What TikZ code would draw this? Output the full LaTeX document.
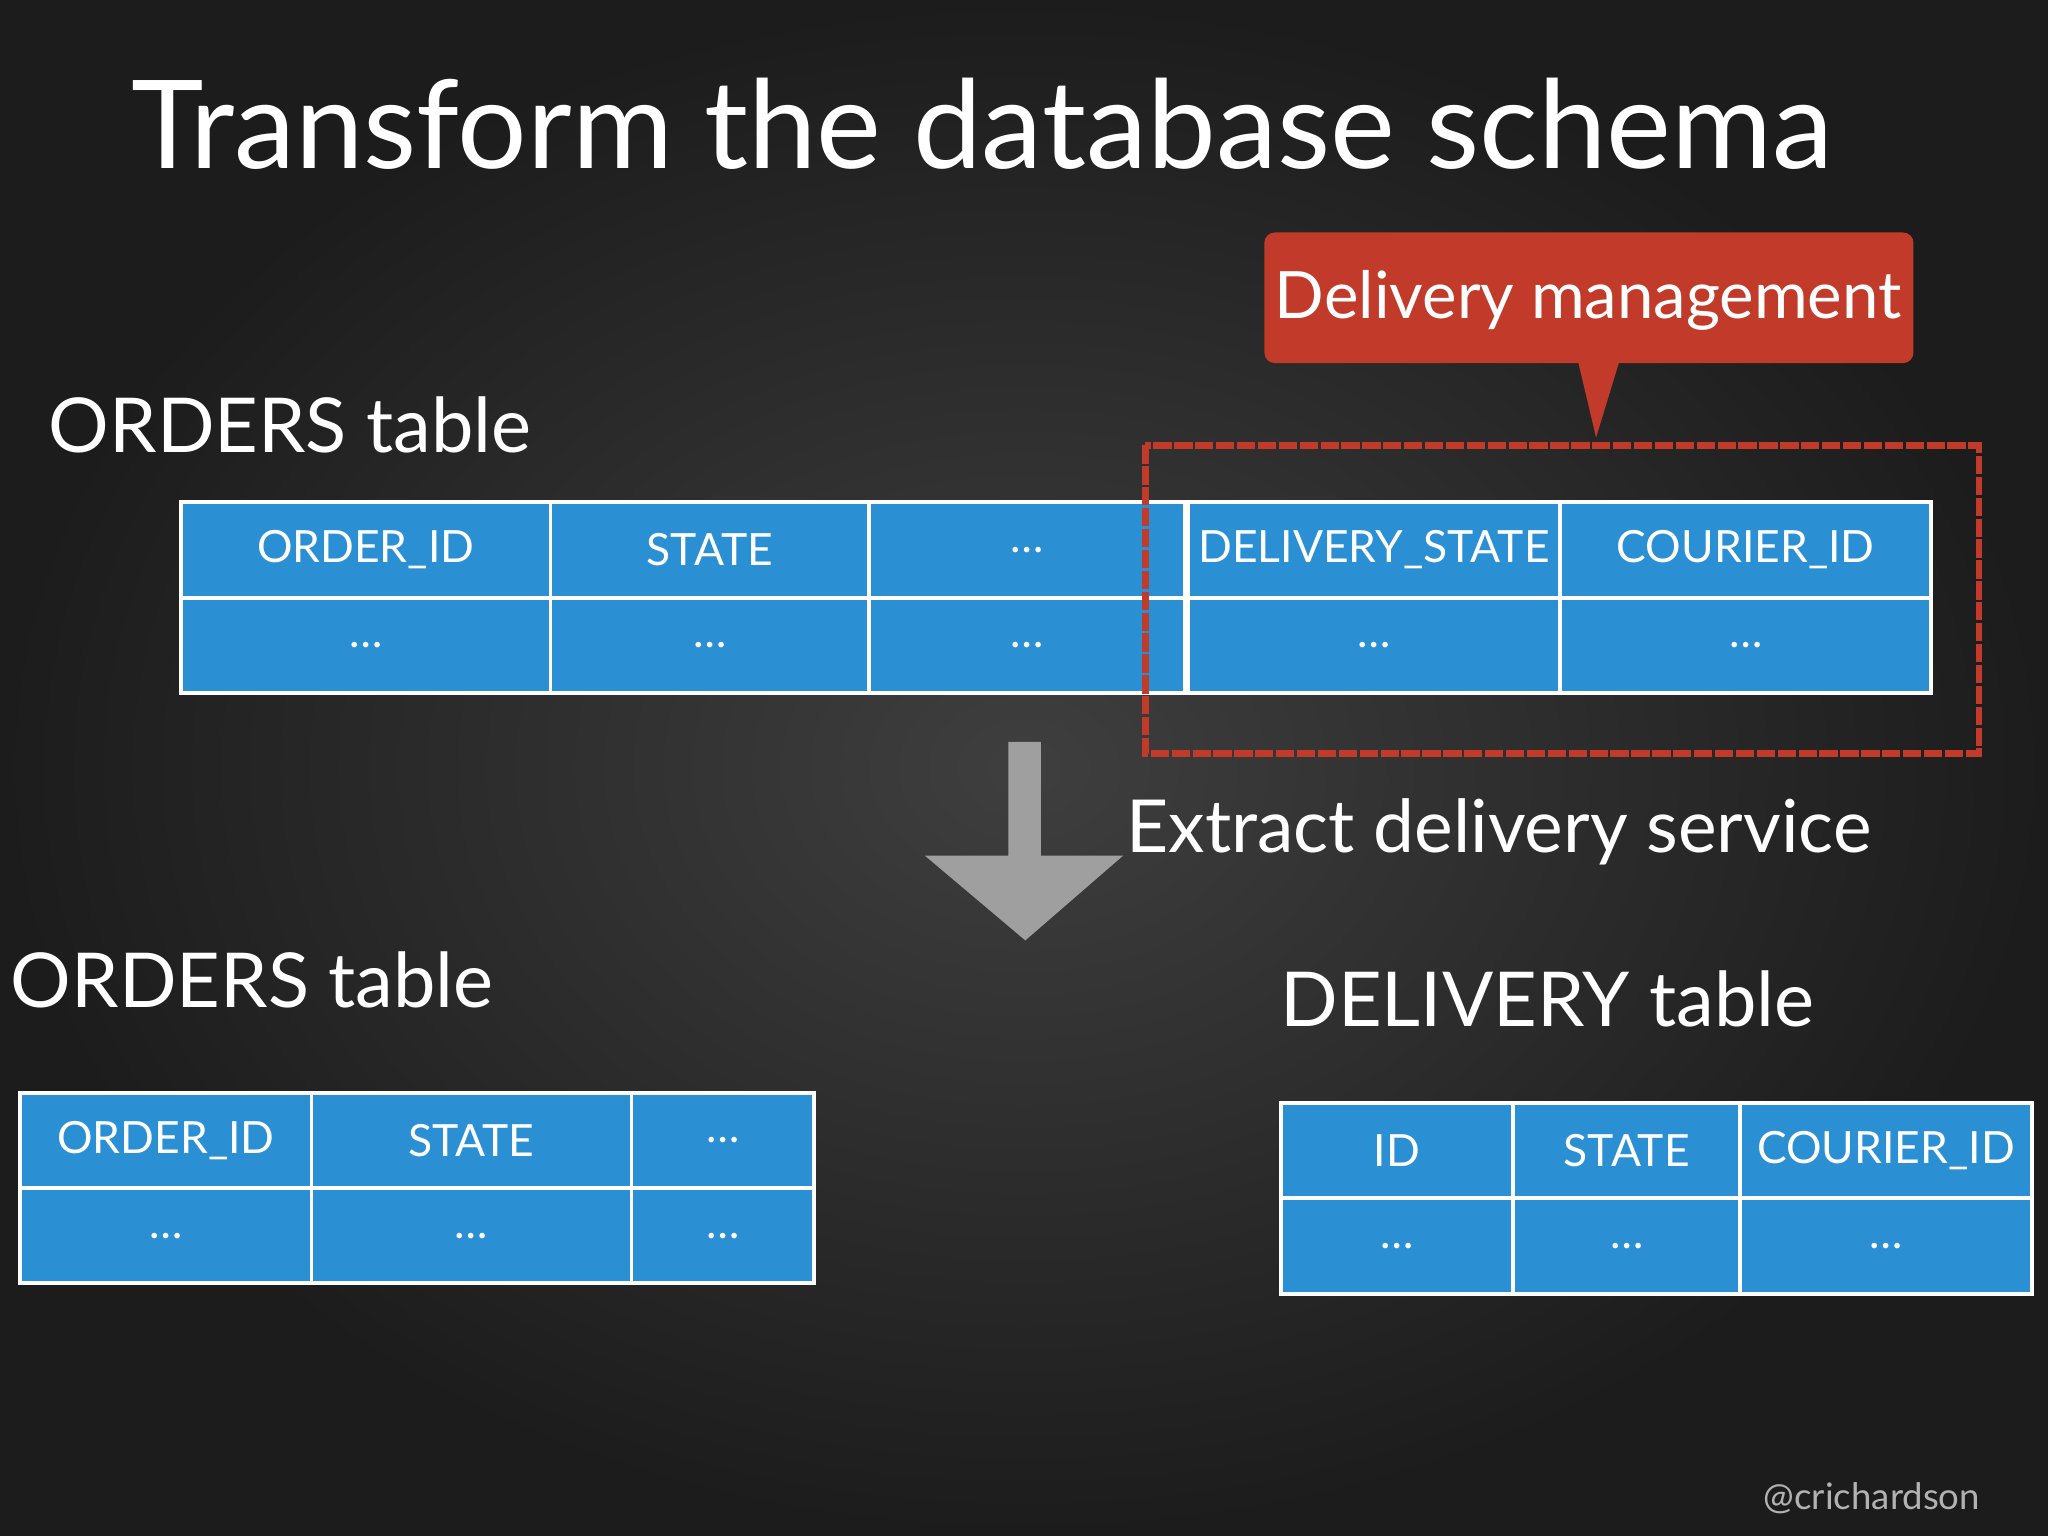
\documentclass[tikz,border=0pt]{standalone}
\usepackage{fontspec}
\setmainfont{Lato}
\definecolor{bg}{HTML}{232323}
\definecolor{cell}{HTML}{2B8FD4}
\definecolor{redc}{HTML}{C13A2A}
\begin{document}
\begin{tikzpicture}[x=0.5pt,y=-0.5pt,
  cellbox/.style={draw=white,line width=1.5pt,fill=cell,text=white,font=\fontsize{17}{18}\selectfont},
  lbl/.style={text=white,anchor=west,inner sep=0pt}]
\useasboundingbox (0,0) rectangle (1568,1176);
\shade[inner color=bg!70!gray,outer color=bg!80!black] (0,0) rectangle (1568,1176);
\node[lbl,font=\fontsize{47}{50}\selectfont] (title) at (100,95) {Transform the database schema};
% callout
\fill[redc,rounded corners=4pt] (968,178) rectangle (1465,278);
\fill[redc] (1208,276) -- (1240,276) -- (1222,335) -- cycle;
\node[text=white,font=\fontsize{25}{28}\selectfont] (dm) at (1216,230) {Delivery management};
\node[lbl,font=\fontsize{29}{32}\selectfont] (ot1) at (37,325) {ORDERS table};
% top table
\foreach \a/\b/\t [count=\i] in {137/420/ORDER\_ID,420/664/STATE,664/906/\dots,908/1193/DELIVERY\_STATE,1193/1477/COURIER\_ID}{
  \node[cellbox,minimum width={(\b-\a)*0.5pt},minimum height=36.5pt,anchor=north west] (h\i) at (\a,383) {\t};
  \node[cellbox,minimum width={(\b-\a)*0.5pt},minimum height=36.5pt,anchor=north west] (r\i) at (\a,456) {\dots};
}
\draw[redc,line width=2.5pt,dash pattern=on 7pt off 1pt] (877,341) rectangle (1515,577);
% arrow
\fill[gray!75] (772,568) -- (797,568) -- (797,655) -- (860,655) -- (785,720) -- (708,655) -- (772,655) -- cycle;
\node[lbl,font=\fontsize{28}{32}\selectfont] (ex) at (862,637) {Extract delivery service};
\node[lbl,font=\fontsize{29}{32}\selectfont] (ot2) at (8,750) {ORDERS table};
\foreach \a/\b/\t [count=\i] in {14/237/ORDER\_ID,237/482/STATE,482/622/\dots}{
  \node[cellbox,minimum width={(\b-\a)*0.5pt},minimum height=36.5pt,anchor=north west] (bh\i) at (\a,835) {\t};
  \node[cellbox,minimum width={(\b-\a)*0.5pt},minimum height=36.5pt,anchor=north west] (br\i) at (\a,908) {\dots};
}
\node[lbl,font=\fontsize{29}{32}\selectfont] (dt) at (980,765) {DELIVERY table};
\foreach \a/\b/\t [count=\i] in {979/1157/ID,1157/1331/STATE,1331/1554/COURIER\_ID}{
  \node[cellbox,minimum width={(\b-\a)*0.5pt},minimum height=36.5pt,anchor=north west] (dh\i) at (\a,843) {\t};
  \node[cellbox,minimum width={(\b-\a)*0.5pt},minimum height=36.5pt,anchor=north west] (dr\i) at (\a,916) {\dots};
}
\node[text=gray!60,anchor=east,font=\fontsize{14}{16}\selectfont] (cr) at (1523,1147) {@crichardson};
\end{tikzpicture}
\end{document}
